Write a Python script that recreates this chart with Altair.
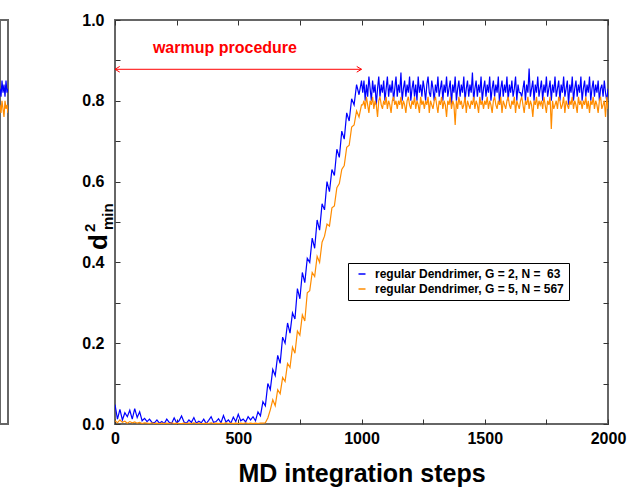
import altair as alt
import pandas as pd

FONT = "Liberation Sans"
W, H = 493, 404
WL = 8
BLUE, ORANGE = "#0000ff", "#ff8c00"
FRAME = "#666666"

series_names = ["regular Dendrimer, G = 2, N = \u00a063", "regular Dendrimer, G = 5, N = 567"]

steps = list(range(0, 1001, 10)) + list(range(1005, 2001, 5))

g2_start = [0.048, 0.012, 0.036, 0.010, 0.028, 0.018, 0.034, 0.012, 0.038, 0.016,
            0.030, 0.008, 0.014, 0.006, 0.012, 0.004]
g2_flat = [0.003, 0.010, 0.002, 0.006, 0.001, 0.012, 0.004, 0.002, 0.015, 0.003,
           0.008, 0.020, 0.005, 0.002, 0.010, 0.004, 0.016, 0.002, 0.007, 0.003,
           0.012, 0.001, 0.009, 0.018, 0.004, 0.006, 0.013, 0.003, 0.021, 0.005,
           0.010, 0.002, 0.017, 0.006, 0.024, 0.008, 0.012, 0.005, 0.018, 0.010]
g2_rise = [0.018, 0.008, 0.030, 0.020, 0.055, 0.045, 0.100, 0.085, 0.135, 0.120,
           0.170, 0.150, 0.215, 0.200, 0.250, 0.225, 0.275, 0.260, 0.335, 0.310,
           0.375, 0.350, 0.410, 0.400, 0.460, 0.435, 0.505, 0.480, 0.545, 0.530,
           0.600, 0.575, 0.630, 0.615, 0.680, 0.660, 0.725, 0.705, 0.770, 0.750,
           0.805, 0.790, 0.840, 0.815, 0.850]
g2_plateau = [
    0.82, 0.85, 0.80, 0.84, 0.81, 0.86, 0.83, 0.80, 0.85, 0.82, 0.84, 0.79, 0.83, 0.86, 0.81, 0.84, 0.82, 0.85, 0.80, 0.83,
    0.86, 0.81, 0.84, 0.82, 0.85, 0.80, 0.83, 0.86, 0.81, 0.84, 0.82, 0.87, 0.80, 0.83, 0.85, 0.81, 0.84, 0.82, 0.86, 0.80,
    0.83, 0.85, 0.81, 0.84, 0.80, 0.86, 0.82, 0.84, 0.81, 0.85, 0.83, 0.80, 0.84, 0.86, 0.82, 0.81, 0.85, 0.83, 0.80, 0.84,
    0.82, 0.86, 0.81, 0.83, 0.85, 0.80, 0.84, 0.82, 0.86, 0.81, 0.83, 0.85, 0.79, 0.84, 0.82, 0.86, 0.80, 0.83, 0.85, 0.81,
    0.84, 0.82, 0.86, 0.80, 0.83, 0.85, 0.81, 0.84, 0.82, 0.87, 0.80, 0.83, 0.85, 0.81, 0.84, 0.82, 0.86, 0.80, 0.83, 0.85,
    0.81, 0.84, 0.82, 0.86, 0.80, 0.83, 0.85, 0.81, 0.84, 0.82, 0.86, 0.79, 0.83, 0.85, 0.81, 0.84, 0.82, 0.86, 0.80, 0.84,
    0.82, 0.85, 0.81, 0.83, 0.86, 0.80, 0.84, 0.82, 0.82, 0.81, 0.83, 0.85, 0.80, 0.84, 0.82, 0.88, 0.81, 0.83, 0.85, 0.80,
    0.84, 0.82, 0.86, 0.81, 0.83, 0.85, 0.80, 0.84, 0.82, 0.86, 0.81, 0.83, 0.85, 0.80, 0.84, 0.82, 0.86, 0.81, 0.83, 0.85,
    0.80, 0.84, 0.82, 0.86, 0.81, 0.83, 0.85, 0.79, 0.84, 0.82, 0.86, 0.80, 0.83, 0.85, 0.81, 0.84, 0.82, 0.86, 0.80, 0.83,
    0.85, 0.81, 0.84, 0.82, 0.86, 0.80, 0.83, 0.85, 0.81, 0.84, 0.82, 0.85, 0.80, 0.83, 0.84, 0.81, 0.85, 0.82, 0.80, 0.83]
g2_values = g2_start + g2_flat + g2_rise + g2_plateau

g5_flat = [0.008, 0.003, 0.010, 0.004, 0.007, 0.002, 0.006, 0.003, 0.005, 0.002,
           0.004, 0.001, 0.003, 0.002, 0.001, 0.003, 0.001, 0.002, 0.001, 0.002,
           0.001, 0.002, 0.001, 0.003, 0.001, 0.002, 0.001, 0.001, 0.002, 0.001,
           0.002, 0.001, 0.003, 0.001, 0.002, 0.001, 0.001, 0.002, 0.001, 0.003,
           0.001, 0.002, 0.001, 0.002, 0.001, 0.003, 0.001, 0.002, 0.001, 0.002,
           0.001, 0.002, 0.001, 0.003, 0.001, 0.002, 0.001, 0.002, 0.001, 0.002,
           0.002]
g5_rise = [0.003, 0.015, 0.035, 0.060, 0.045, 0.085, 0.075, 0.115, 0.105, 0.150,
           0.140, 0.190, 0.175, 0.230, 0.220, 0.270, 0.255, 0.325, 0.330, 0.375,
           0.365, 0.415, 0.400, 0.450, 0.465, 0.495, 0.490, 0.535, 0.540, 0.585,
           0.595, 0.630, 0.640, 0.685, 0.690, 0.735, 0.740, 0.775, 0.760, 0.790]
g5_plateau = [
    0.79, 0.80, 0.78, 0.81, 0.79, 0.77, 0.80, 0.79, 0.81, 0.78, 0.80, 0.79, 0.76, 0.80, 0.81, 0.79, 0.78, 0.80, 0.79, 0.81,
    0.78, 0.80, 0.79, 0.77, 0.80, 0.81, 0.79, 0.80, 0.78, 0.80, 0.79, 0.81, 0.78, 0.80, 0.79, 0.77, 0.80, 0.81, 0.79, 0.78,
    0.80, 0.79, 0.81, 0.78, 0.80, 0.79, 0.77, 0.81, 0.79, 0.80, 0.78, 0.80, 0.79, 0.81, 0.77, 0.80, 0.79, 0.78, 0.80, 0.81,
    0.79, 0.77, 0.80, 0.79, 0.81, 0.78, 0.80, 0.79, 0.76, 0.80, 0.79, 0.81, 0.78, 0.80, 0.79, 0.74, 0.80, 0.78, 0.81, 0.79,
    0.80, 0.78, 0.79, 0.81, 0.77, 0.80, 0.79, 0.78, 0.80, 0.79, 0.81, 0.78, 0.80, 0.79, 0.77, 0.81, 0.79, 0.80, 0.78, 0.80,
    0.79, 0.81, 0.78, 0.80, 0.79, 0.77, 0.80, 0.81, 0.79, 0.78, 0.80, 0.79, 0.81, 0.77, 0.80, 0.79, 0.78, 0.80, 0.81, 0.79,
    0.78, 0.80, 0.79, 0.81, 0.77, 0.80, 0.79, 0.78, 0.80, 0.81, 0.79, 0.77, 0.80, 0.79, 0.81, 0.78, 0.80, 0.79, 0.76, 0.80,
    0.79, 0.81, 0.78, 0.80, 0.79, 0.80, 0.78, 0.81, 0.79, 0.77, 0.80, 0.79, 0.81, 0.73, 0.80, 0.78, 0.79, 0.80, 0.78, 0.81,
    0.80, 0.78, 0.79, 0.81, 0.77, 0.80, 0.79, 0.78, 0.80, 0.79, 0.81, 0.78, 0.80, 0.79, 0.77, 0.81, 0.79, 0.80, 0.78, 0.80,
    0.79, 0.81, 0.78, 0.80, 0.77, 0.80, 0.79, 0.81, 0.78, 0.80, 0.79, 0.77, 0.80, 0.81, 0.78, 0.79, 0.80, 0.76, 0.81, 0.78]
g5_values = g5_flat + g5_rise + g5_plateau

# tail of the neighbouring (cropped) panel
left_steps = [1968, 1972, 1976, 1980, 1984, 1988, 1992, 1996, 2000]
left_g2 = [0.83, 0.81, 0.85, 0.82, 0.84, 0.81, 0.85, 0.82, 0.83]
left_g5 = [0.79, 0.77, 0.80, 0.78, 0.76, 0.80, 0.78, 0.79, 0.77]

x_label_values = [0, 500, 1000, 1500, 2000]
x_tick_values = [0, 250, 500, 750, 1000, 1250, 1500, 1750, 2000]
y_label_values = [0.0, 0.2, 0.4, 0.6, 0.8, 1.0]
y_tick_values = [0.0, 0.1, 0.2, 0.3, 0.4, 0.5, 0.6, 0.7, 0.8, 0.9, 1.0]

ARROW_FROM, ARROW_TO, ARROW_Y = 0, 1000, 0.878
LABEL_TEXT, LABEL_X, LABEL_Y = "warmup procedure", 446, 0.9176
X_TITLE = "MD integration steps"
Y_MAIN, Y_SUP, Y_SUB = "d", "2", "min"

df_g2 = pd.DataFrame({"step": steps, "d2min": g2_values, "series": series_names[0]})
df_g5 = pd.DataFrame({"step": steps, "d2min": g5_values, "series": series_names[1]})
df_lg2 = pd.DataFrame({"step": left_steps, "d2min": left_g2, "series": series_names[0]})
df_lg5 = pd.DataFrame({"step": left_steps, "d2min": left_g5, "series": series_names[1]})
df_arrow = pd.DataFrame({"x0": [ARROW_FROM], "x1": [ARROW_TO], "y": [ARROW_Y]})
df_heads = pd.DataFrame({"x": [ARROW_FROM, ARROW_TO], "y": [ARROW_Y, ARROW_Y], "ang": [180, 0]})
df_label = pd.DataFrame({"x": [LABEL_X], "y": [LABEL_Y], "t": [LABEL_TEXT]})

xscale = alt.Scale(domain=[0, 2000], nice=False, zero=False)
yscale = alt.Scale(domain=[0, 1], nice=False, zero=False)
color_scale = alt.Scale(domain=series_names, range=[BLUE, ORANGE])

lab = dict(labelFont=FONT, labelFontSize=16, labelFontWeight="bold", labelColor="black",
           labelFlush=False, grid=False, domain=False, ticks=False)
tick_axis = dict(labels=False, domain=False, ticks=True, tickSize=5, tickColor="#333333",
                 tickWidth=1, grid=False, title=None)

legend = alt.Legend(title=None, orient="none", legendX=233, legendY=243,
                    symbolType="stroke", symbolSize=49, symbolStrokeWidth=1.5,
                    symbolOffset=3, labelFont=FONT, labelFontSize=12,
                    labelFontWeight="bold", labelColor="black", labelOffset=7,
                    labelLimit=400, rowPadding=3, padding=5,
                    strokeColor="black", fillColor="white")

x_main_axis = alt.Axis(orient="bottom", values=x_label_values, format="d", labelPadding=6,
                       title=X_TITLE, titleFont=FONT, titleFontSize=25, titleFontWeight="bold",
                       titleColor="black", titleY=57, titleBaseline="alphabetic", **lab)
y_main_axis = alt.Axis(orient="left", values=y_label_values, format=".1f", labelPadding=11,
                       title=None, **lab)

g2_line = alt.Chart(df_g2).mark_line(strokeWidth=1.2, clip=True).encode(
    x=alt.X("step:Q", scale=xscale, axis=x_main_axis),
    y=alt.Y("d2min:Q", scale=yscale, axis=y_main_axis),
    color=alt.Color("series:N", scale=color_scale, legend=legend),
)
g5_line = alt.Chart(df_g5).mark_line(strokeWidth=1.2, clip=True).encode(
    x=alt.X("step:Q", scale=xscale, axis=None),
    y=alt.Y("d2min:Q", scale=yscale, axis=None),
    color=alt.Color("series:N", scale=color_scale, legend=legend),
)
arrow = alt.Chart(df_arrow).mark_rule(color="red", strokeWidth=1).encode(
    x=alt.X("x0:Q", scale=xscale, axis=alt.Axis(orient="top", offset=-H, values=x_tick_values, **tick_axis)),
    x2="x1:Q",
    y=alt.Y("y:Q", scale=yscale, axis=alt.Axis(orient="right", offset=-W, values=y_tick_values, **tick_axis)),
)
heads = alt.Chart(df_heads).mark_point(shape="M-1,-0.6L0,0L-1,0.6", filled=False, color="red",
                                       size=90, strokeWidth=1, opacity=1).encode(
    x=alt.X("x:Q", scale=xscale, axis=alt.Axis(orient="bottom", offset=-H, values=x_tick_values, **tick_axis)),
    y=alt.Y("y:Q", scale=yscale, axis=alt.Axis(orient="left", offset=-W, values=y_tick_values, **tick_axis)),
    angle=alt.Angle("ang:Q", scale=None),
)
label = alt.Chart(df_label).mark_text(color="red", font=FONT, fontSize=16, fontWeight="bold",
                                      align="center", baseline="alphabetic").encode(
    x=alt.X("x:Q", scale=xscale, axis=None),
    y=alt.Y("y:Q", scale=yscale, axis=None),
    text="t:N",
)
yt_main = alt.Chart(pd.DataFrame({"t": [Y_MAIN]})).mark_text(
    font=FONT, fontSize=26, fontWeight="bold", color="black", angle=270,
    align="center", baseline="alphabetic").encode(
    text="t:N", x=alt.value(-8), y=alt.value(222))
yt_sup = alt.Chart(pd.DataFrame({"t": [Y_SUP]})).mark_text(
    font=FONT, fontSize=15, fontWeight="bold", color="black", angle=270,
    align="left", baseline="alphabetic").encode(
    text="t:N", x=alt.value(-20), y=alt.value(212))
yt_sub = alt.Chart(pd.DataFrame({"t": [Y_SUB]})).mark_text(
    font=FONT, fontSize=15, fontWeight="bold", color="black", angle=270,
    align="left", baseline="alphabetic").encode(
    text="t:N", x=alt.value(-2), y=alt.value(210))

right = alt.layer(g2_line, g5_line, arrow, heads, label, yt_main, yt_sup, yt_sub).resolve_axis(
    x="independent", y="independent").properties(width=W, height=H)

lxscale = alt.Scale(domain=[1968, 2000], nice=False, zero=False)
left_g2_line = alt.Chart(df_lg2).mark_line(strokeWidth=1.2, clip=True).encode(
    x=alt.X("step:Q", scale=lxscale, axis=alt.Axis(orient="bottom", values=[2000], format="d",
                                                    labelPadding=6, title=None, **lab)),
    y=alt.Y("d2min:Q", scale=yscale, axis=alt.Axis(orient="left", offset=-WL,
                                                    values=y_tick_values, **tick_axis)),
    color=alt.Color("series:N", scale=color_scale, legend=None),
)
left_g5_line = alt.Chart(df_lg5).mark_line(strokeWidth=1.2, clip=True).encode(
    x=alt.X("step:Q", scale=lxscale, axis=None),
    y=alt.Y("d2min:Q", scale=yscale, axis=None),
    color=alt.Color("series:N", scale=color_scale, legend=None),
)
left = alt.layer(left_g2_line, left_g5_line).properties(width=WL, height=H)

chart = alt.hconcat(left, right, spacing=107, bounds="flush").resolve_scale(
    color="independent").resolve_legend(color="independent").properties(
    autosize=alt.AutoSizeParams(type="none"),
    padding={"left": 0, "top": 20, "right": 627, "bottom": 467},
).configure_view(stroke=FRAME, strokeWidth=2)

chart.save("out.html", embed_options={"renderer": "svg", "actions": False})
